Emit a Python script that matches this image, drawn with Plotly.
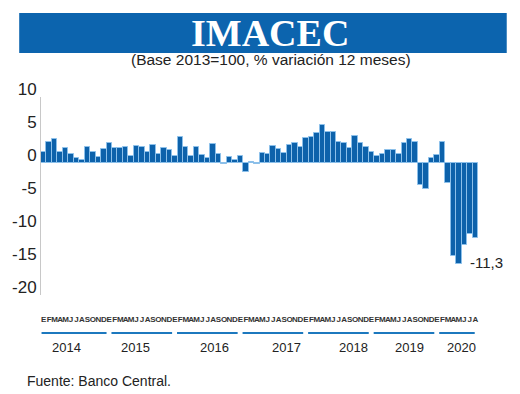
import plotly.graph_objects as go

# ---------------- data ----------------
month_letters = ["E", "F", "M", "A", "M", "J", "J", "A", "S", "O", "N", "D"]
years = ["2014", "2015", "2016", "2017", "2018", "2019", "2020"]
months_per_year = [12, 12, 12, 12, 12, 12, 8]

v2014 = [1.6, 3.2, 3.6, 1.7, 2.2, 1.3, 0.8, 0.5, 2.4, 1.7, 0.9, 2.1]
v2015 = [3.0, 2.3, 2.3, 2.4, 1.0, 2.6, 2.4, 1.6, 2.8, 1.3, 2.2, 2.0]
v2016 = [1.1, 3.9, 2.5, 1.1, 2.4, 1.2, 0.8, 2.9, 1.3, -0.2, 0.9, 0.5]
v2017 = [1.1, -1.3, 0.2, -0.1, 1.5, 1.3, 2.6, 2.1, 1.5, 2.8, 3.1, 2.5]
v2018 = [3.8, 3.9, 4.5, 5.8, 4.7, 4.7, 3.2, 3.1, 2.2, 4.1, 3.0, 2.5]
v2019 = [1.7, 1.0, 1.4, 1.9, 2.0, 1.3, 3.0, 3.7, 3.2, -3.4, -3.9, 0.7]
v2020 = [1.2, 3.2, -3.1, -14.1, -15.3, -12.4, -10.7, -11.3]

y_ticks = [10, 5, 0, -5, -10, -15, -20]
title_text = "IMACEC"
subtitle_text = "(Base 2013=100, % variación 12 meses)"
source_text = "Fuente: Banco Central."

# ---------------- build ----------------
values = v2014 + v2015 + v2016 + v2017 + v2018 + v2019 + v2020
x_idx = list(range(len(values)))
x_text = [month_letters[i % 12] for i in x_idx]

BAR = "#0D62AB"
BAR_EDGE = "#8CC0EA"
TXT = "#222222"
SANS = "Liberation Sans, Arial, sans-serif"

fig = go.Figure()
fig.add_trace(go.Bar(
    x=x_idx, y=values,
    marker=dict(color=BAR, line=dict(color=BAR_EDGE, width=1)),
    width=1.0,
    hoverinfo="skip",
))

# plot-area geometry (pixels)
L, R, T, B = 37, 42, 97, 99
W, H = 520, 394
ph = H - T - B
pw = W - L - R

def py(pix):  # pixel y -> paper y
    return (H - B - pix) / ph

def px(pix):  # pixel x -> paper x
    return (pix - L) / pw

shapes = []
annotations = []

# title band
shapes.append(dict(type="rect", xref="paper", yref="paper",
                   x0=px(15), x1=px(507), y0=py(53), y1=py(13),
                   fillcolor="#0C64AE", line=dict(width=0), layer="below"))
annotations.append(dict(text="<b>" + title_text + "</b>", xref="paper", yref="paper",
                        x=px(268), y=py(33), showarrow=False,
                        xanchor="center", yanchor="middle",
                        font=dict(family="Liberation Serif, DejaVu Serif, serif", size=38, color="white")))
annotations.append(dict(text=subtitle_text, xref="paper", yref="paper",
                        x=px(269), y=py(59), showarrow=False,
                        xanchor="center", yanchor="middle",
                        font=dict(family=SANS, size=15.5, color=TXT)))

# year underlines and labels
year_label_pos = [4.1, 16.8, 31.3, 44.4, 56.7, 66.9, 76.5]
start = 0
for i, (yr, n) in enumerate(zip(years, months_per_year)):
    x0 = start - 0.4 if i == 0 else start + 0.4
    x1 = start + n - 0.5 if n == 12 else start + n - 1.1
    shapes.append(dict(type="line", xref="x", yref="paper", x0=x0, x1=x1,
                       y0=py(333), y1=py(333), line=dict(color="#1C78BE", width=2)))
    annotations.append(dict(text=yr, xref="x", yref="paper", x=year_label_pos[i], y=py(347),
                            showarrow=False, xanchor="center", yanchor="middle",
                            font=dict(family=SANS, size=13, color=TXT)))
    start += n

# last value label
annotations.append(dict(text=f"{values[-1]:.1f}".replace(".", ","), xref="x", yref="y",
                        x=x_idx[-1], y=values[-1], showarrow=False,
                        xanchor="left", yanchor="middle", xshift=-7, yshift=-25,
                        font=dict(family=SANS, size=15, color=TXT)))

# source
annotations.append(dict(text=source_text, xref="paper", yref="paper",
                        x=px(21), y=py(381), showarrow=False,
                        xanchor="left", yanchor="middle",
                        font=dict(family=SANS, size=14, color=TXT)))

fig.update_layout(
    width=W, height=H,
    margin=dict(l=L, r=R, t=T, b=B, pad=0),
    paper_bgcolor="white", plot_bgcolor="white",
    showlegend=False,
    bargap=0,
    shapes=shapes,
    annotations=annotations,
    xaxis=dict(range=[-0.5, len(values) - 0.5], tickmode="array", tickvals=x_idx, ticktext=x_text,
               tickangle=0, showgrid=False, zeroline=False, showline=False, ticks="",
               ticklabelstandoff=18,
               tickfont=dict(family=SANS, size=8, color="#333333", weight="bold")),
    yaxis=dict(range=[-20, 10], tickmode="array", tickvals=y_ticks,
               ticktext=[str(t) for t in y_ticks],
               showgrid=False, zeroline=False, showline=True, linecolor="#C8C8C8", linewidth=1,
               ticks="", ticklabelshift=-8,
               tickfont=dict(family=SANS, size=17, color=TXT)),
)

fig.write_html("out.html", config={"displayModeBar": False},
               post_script="document.body.style.margin='0';document.body.style.overflow='hidden';")
